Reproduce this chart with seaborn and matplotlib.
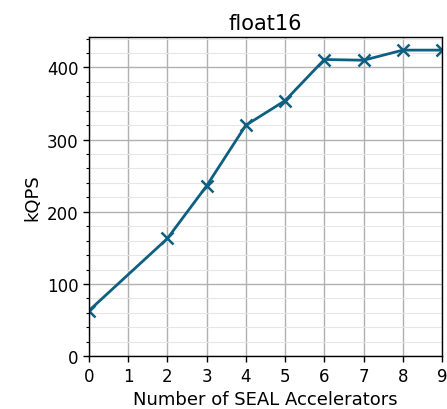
import matplotlib
matplotlib.use("Agg")
import matplotlib.pyplot as plt
import seaborn as sns
import pandas as pd
from matplotlib.ticker import MultipleLocator

accelerators = [0, 2, 3, 4, 5, 6, 7, 8, 9]
kqps = [63, 163, 236, 320, 354, 411, 410, 424, 424]

sns.set_style("white")
plt.rcParams['font.family'] = ['DejaVu Sans']
plt.rcParams['text.color'] = 'black'
plt.rcParams['axes.labelcolor'] = 'black'
plt.rcParams['xtick.color'] = 'black'
plt.rcParams['ytick.color'] = 'black'

df = pd.DataFrame({"n": accelerators, "kqps": kqps})

color = "#0f5f80"
fig = plt.figure(figsize=(4.47, 4.10), dpi=100)
ax = fig.add_axes([0.199, 0.129, 0.790, 0.778])
sns.lineplot(data=df, x="n", y="kqps", ax=ax, color=color, marker="x",
             markersize=9, markeredgewidth=1.8, markeredgecolor=color,
             linewidth=2.0)
ax.set_xlim(0, 9)
ax.set_ylim(0, 442)
ax.set_xticks(range(0, 10))
ax.yaxis.set_major_locator(MultipleLocator(100))
ax.yaxis.set_minor_locator(MultipleLocator(20))
ax.grid(which="major", color="#b0b0b0", linewidth=1.0)
ax.grid(which="minor", axis="y", color="#e6e6e6", linewidth=0.8)
ax.tick_params(axis="both", which="major", labelsize=12, length=4, width=1,
               direction="out", left=True, bottom=True, colors="black")
ax.tick_params(axis="y", which="minor", length=2.5, width=0.8, left=True, colors="black")
for s in ax.spines.values():
    s.set_color("black")
    s.set_linewidth(1.0)
ax.set_xlabel("Number of SEAL Accelerators", fontsize=13, color="black")
ax.set_ylabel("kQPS", fontsize=13, color="black")
ax.set_title("float16", fontsize=15, color="black")
fig.savefig("out.png", dpi=100)
